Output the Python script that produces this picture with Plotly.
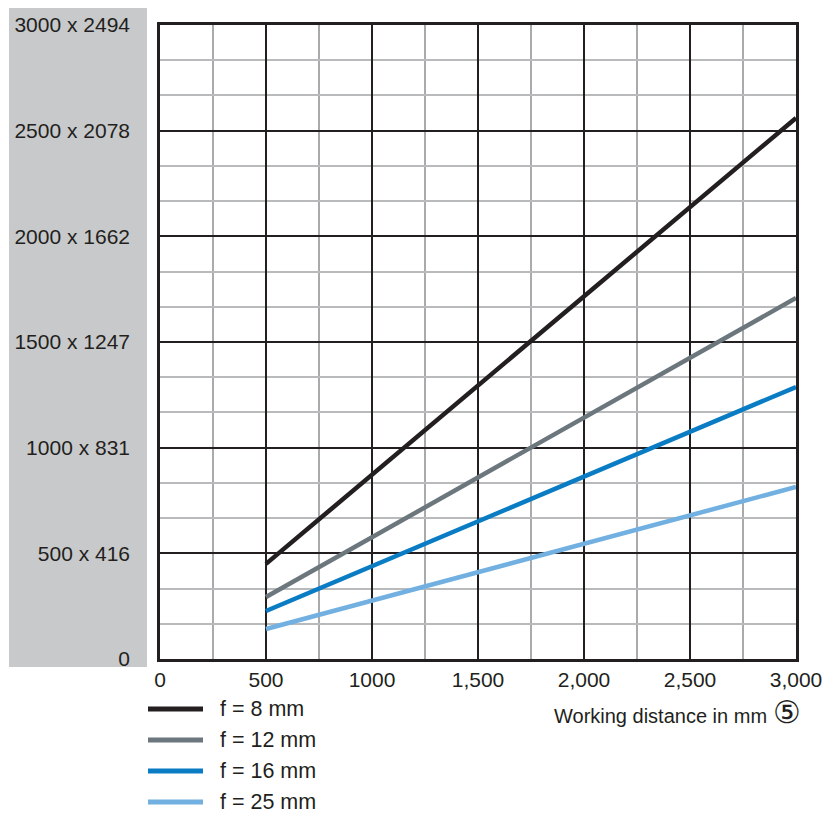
import plotly.graph_objects as go

# Data
distance = [500, 3000]
series_names = ["f = 8 mm", "f = 12 mm", "f = 16 mm", "f = 25 mm"]
series_values = [
    [450, 2560],
    [293, 1708],
    [227, 1287],
    [142, 814],
]
colors = ["#231f20", "#6b777d", "#0a7cc4", "#71b0e0"]
x_tickvals = [0, 500, 1000, 1500, 2000, 2500, 3000]
x_ticktext = ["0", "500", "1000", "1,500", "2,000", "2,500", "3,000"]
y_tickvals = [0, 500, 1000, 1500, 2000, 2500, 3000]
y_ticktext = ["0", "500 x 416", "1000 x 831", "1500 x 1247", "2000 x 1662", "2500 x 2078", "3000 x 2494"]

FONT = "Liberation Sans"
W, H = 822, 814
L, R, T, B = 160, 26, 25, 155
pw, ph = W - L - R, H - T - B

# convert pixel positions to paper coords
def px(x):
    return (x - L) / pw

def py(y):
    return (H - B - y) / ph

fig = go.Figure()
for name, vals, c in zip(series_names, series_values, colors):
    fig.add_trace(go.Scatter(x=distance, y=vals, mode="lines", name=name,
                             line=dict(color=c, width=4.5), showlegend=False))

shapes = [dict(type="rect", xref="paper", yref="paper", x0=px(9), x1=px(147), y0=py(667), y1=py(8),
               fillcolor="#c8c9cb", line=dict(width=0), layer="below")]
annotations = []
legend_y = [709, 740, 771, 802]
for name, c, ly in zip(series_names, colors, legend_y):
    shapes.append(dict(type="line", xref="paper", yref="paper", x0=px(148), x1=px(203), y0=py(ly), y1=py(ly),
                       line=dict(color=c, width=5)))
    annotations.append(dict(xref="paper", yref="paper", x=px(218), y=py(ly), text=name, showarrow=False,
                            xanchor="left", yanchor="middle", font=dict(family=FONT, size=21.5, color="#231f20")))
annotations.append(dict(xref="paper", yref="paper", x=px(803), y=py(712),
                        text="Working distance in mm <span style='font-size:31px'>\u2464</span>",
                        showarrow=False, xanchor="right", yanchor="middle",
                        font=dict(family=FONT, size=20, color="#231f20")))

fig.update_layout(
    width=W, height=H, margin=dict(l=L, r=R, t=T, b=B, autoexpand=False),
    paper_bgcolor="white", plot_bgcolor="white",
    shapes=shapes, annotations=annotations,
    font=dict(family=FONT, size=21, color="#231f20"),
    xaxis=dict(range=[0, 3000], tickvals=x_tickvals, ticktext=x_ticktext,
               showgrid=True, gridcolor="#231f20", gridwidth=2,
               minor=dict(dtick=250, showgrid=True, gridcolor="#a9aaac", gridwidth=1.5),
               showline=True, linecolor="#231f20", linewidth=2.5, mirror=True,
               zeroline=False, ticks="", ticklabeloverflow="allow", automargin=False,
               fixedrange=True),
    yaxis=dict(range=[0, 3000], tickvals=y_tickvals, ticktext=y_ticktext,
               showgrid=True, gridcolor="#231f20", gridwidth=2,
               minor=dict(dtick=500 / 3, showgrid=True, gridcolor="#b9babc", gridwidth=1.5),
               showline=True, linecolor="#231f20", linewidth=2.5, mirror=True,
               zeroline=False, ticks="", ticklabelstandoff=23, automargin=False,
               fixedrange=True),
)

fig.write_html(
    "out.html",
    config={"displayModeBar": False, "responsive": False},
    post_script="document.documentElement.style.overflow='hidden';"
                "document.body.style.margin='0';document.body.style.overflow='hidden';",
)
